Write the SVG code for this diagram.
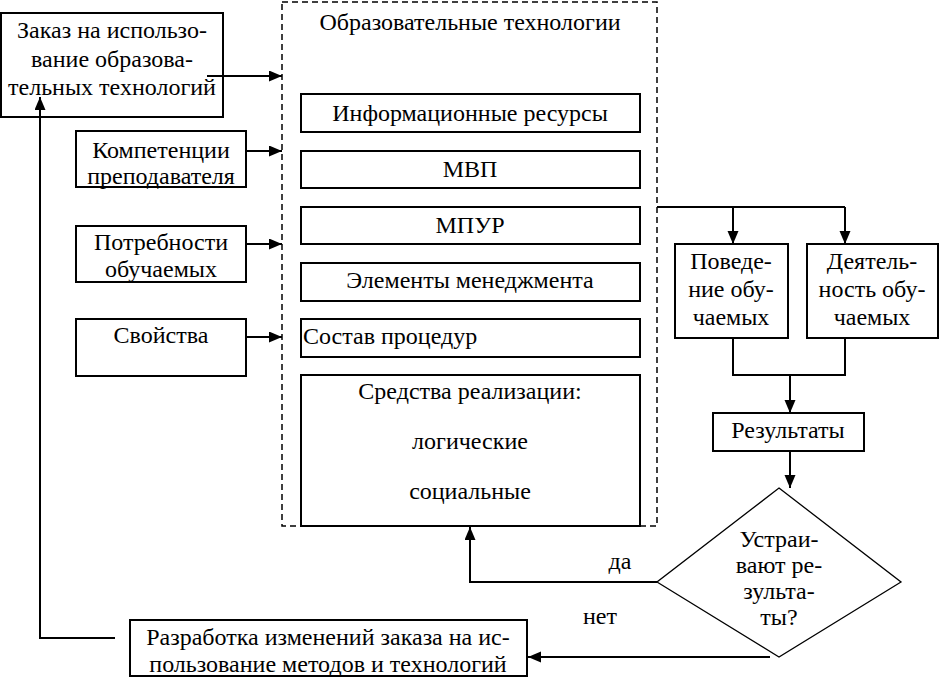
<svg xmlns="http://www.w3.org/2000/svg" width="940" height="677" viewBox="0 0 940 677">
<style>
.b{fill:#fff;stroke:#000;stroke-width:2}
.d{fill:none;stroke:#000;stroke-width:1.3}
.t{font-size:24px;fill:#000;text-anchor:middle}
.l{text-anchor:start}
.c{fill:none;stroke:#000;stroke-width:2}
.dash{fill:none;stroke:#000;stroke-width:1.5;stroke-dasharray:6,4}
</style>
<defs>
<marker id="ah" markerUnits="userSpaceOnUse" markerWidth="14" markerHeight="12" refX="13" refY="5.5" orient="auto">
<path d="M0,0 L13,5.5 L0,11 z" fill="#000"/>
</marker>
</defs>
<rect width="940" height="677" fill="#fff"/>
<g font-family="'Liberation Serif', 'Times New Roman', 'DejaVu Serif', serif">

<g id="tech">
<rect class="dash" x="282" y="2" width="375" height="524"/>
<text class="t" x="470" y="30">Образовательные технологии</text>
</g>

<g id="order">
<rect class="b" x="1" y="13" width="222" height="104"/>
<text class="t" x="112" y="38">Заказ на использо-</text>
<text class="t" x="112" y="67">вание образова-</text>
<text class="t" x="112" y="95">тельных технологий</text>
</g>

<g id="competence">
<rect class="b" x="76" y="131" width="170" height="56"/>
<text class="t" x="161" y="158">Компетенции</text>
<text class="t" x="161" y="184">преподавателя</text>
</g>

<g id="needs">
<rect class="b" x="76" y="226" width="170" height="56"/>
<text class="t" x="161" y="250">Потребности</text>
<text class="t" x="161" y="277">обучаемых</text>
</g>

<g id="props">
<rect class="b" x="76" y="319" width="170" height="57"/>
<text class="t" x="161" y="343">Свойства</text>
</g>

<g id="info">
<rect class="b" x="301" y="94" width="339" height="38"/>
<text class="t" x="470" y="121">Информационные ресурсы</text>
</g>

<g id="mvp">
<rect class="b" x="301" y="151" width="339" height="37"/>
<text class="t" x="470" y="177">МВП</text>
</g>

<g id="mpur">
<rect class="b" x="301" y="207" width="339" height="37"/>
<text class="t" x="470" y="233">МПУР</text>
</g>

<g id="mgmt">
<rect class="b" x="301" y="263" width="339" height="38"/>
<text class="t" x="470" y="288">Элементы менеджмента</text>
</g>

<g id="proc">
<rect class="b" x="301" y="319" width="339" height="38"/>
<text class="t l" x="303" y="344">Состав процедур</text>
</g>

<g id="means">
<rect class="b" x="301" y="375" width="339" height="151"/>
<text class="t" x="470" y="399">Средства реализации:</text>
<text class="t" x="470" y="449">логические</text>
<text class="t" x="470" y="499">социальные</text>
</g>

<g id="behavior">
<rect class="b" x="675" y="244" width="113" height="94"/>
<text class="t" x="731" y="269">Поведе-</text>
<text class="t" x="731" y="297">ние обу-</text>
<text class="t" x="731" y="325">чаемых</text>
</g>

<g id="activity">
<rect class="b" x="807" y="244" width="131" height="94"/>
<text class="t" x="872" y="269">Деятель-</text>
<text class="t" x="872" y="297">ность обу-</text>
<text class="t" x="872" y="325">чаемых</text>
</g>

<g id="results">
<rect class="b" x="713" y="413" width="151" height="38"/>
<text class="t" x="788" y="438">Результаты</text>
</g>

<g id="decision">
<polygon class="d" points="779,488 901,582 779,657 657,582"/>
<text class="t" x="779" y="547">Устраи-</text>
<text class="t" x="779" y="573">вают ре-</text>
<text class="t" x="779" y="599">зульта-</text>
<text class="t" x="779" y="625">ты?</text>
</g>

<g id="revise">
<rect class="b" x="130" y="620" width="397" height="56"/>
<text class="t" x="328" y="645">Разработка изменений заказа на ис-</text>
<text class="t" x="328" y="672">пользование методов и технологий</text>
</g>

<g id="connectors">
<path class="c" d="M207,76 H282" marker-end="url(#ah)"/>
<path class="c" d="M246,151 H282" marker-end="url(#ah)"/>
<path class="c" d="M246,244 H282" marker-end="url(#ah)"/>
<path class="c" d="M246,337 H282" marker-end="url(#ah)"/>
<path class="c" d="M657,207 H845"/>
<path class="c" d="M733,207 V244" marker-end="url(#ah)"/>
<path class="c" d="M845,207 V244" marker-end="url(#ah)"/>
<path class="c" d="M733,338 V375 H845 V338"/>
<path class="c" d="M790,375 V413" marker-end="url(#ah)"/>
<path class="c" d="M790,451 V488" marker-end="url(#ah)"/>
<path class="c" d="M657,582 H470 V527" marker-end="url(#ah)"/>
<path class="c" d="M770,657 H528" marker-end="url(#ah)"/>
<path class="c" d="M115,638 H40 V97" marker-end="url(#ah)"/>
<text class="t" x="620" y="569">да</text>
<text class="t" x="600" y="624">нет</text>
</g>
</g>
</svg>
